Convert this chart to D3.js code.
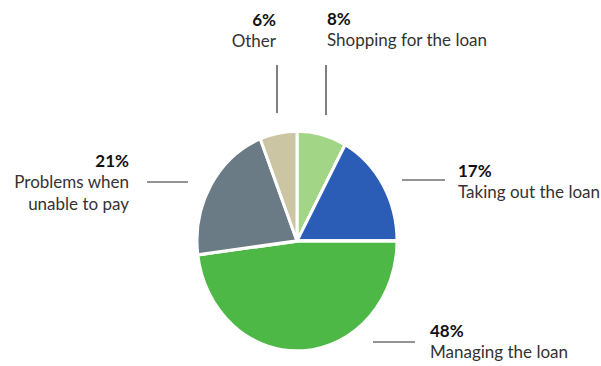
<!DOCTYPE html>
<html>
<head>
<meta charset="utf-8">
<script src="https://cdn.jsdelivr.net/npm/d3@7/dist/d3.min.js"></script>
<style>
  html, body { margin: 0; padding: 0; background: #fff; }
  svg text { font-family: Lato, "Open Sans", sans-serif; }
</style>
</head>
<body>
<svg id="chart" width="601" height="366"></svg>
<script>
// Slice order runs clockwise from 12 o'clock
const categories = ["Shopping for the loan", "Taking out the loan", "Managing the loan", "Problems when unable to pay", "Other"];
const labelLines = [["Shopping for the loan"], ["Taking out the loan"], ["Managing the loan"], ["Problems when", "unable to pay"], ["Other"]];
const values = [8, 17, 48, 21, 6];
const colors = ["#a2d585", "#2b5cb6", "#4db845", "#6b7b85", "#cbc5a3"];

// Label placement: text anchor point, alignment, leader line
const labelLayout = [
  { x: 327, y: 25, anchor: "start", line: [[326, 65], [326, 115]] },
  { x: 458, y: 177, anchor: "start", line: [[402, 180], [445, 180]] },
  { x: 430, y: 337, anchor: "start", line: [[373, 342], [415, 342]] },
  { x: 129, y: 167, anchor: "end", line: [[147, 182], [188, 182]] },
  { x: 276, y: 26, anchor: "end", line: [[277, 65], [277, 113]] }
];

const svg = d3.select("#chart");
const cx = 297, cy = 241, r = 100, sy = 1.1;

const pie = d3.pie().sort(null).value(d => d)(values);
const arc = d3.arc().innerRadius(0).outerRadius(r);

const g = svg.append("g").attr("transform", `translate(${cx},${cy}) scale(1,${sy})`);
g.selectAll("path")
  .data(pie)
  .join("path")
  .attr("d", arc)
  .attr("fill", (d, i) => colors[i])
  .attr("stroke", "#fff")
  .attr("stroke-width", 3)
  .attr("stroke-linejoin", "round");

// Leader lines
svg.append("g").selectAll("line")
  .data(labelLayout)
  .join("line")
  .attr("x1", d => d.line[0][0]).attr("y1", d => d.line[0][1])
  .attr("x2", d => d.line[1][0]).attr("y2", d => d.line[1][1])
  .attr("stroke", "#2a2a2a").attr("stroke-width", 1.2);

// Labels: bold percentage over category name
const labels = svg.append("g").selectAll("text")
  .data(pie)
  .join("text")
  .attr("x", (d, i) => labelLayout[i].x)
  .attr("y", (d, i) => labelLayout[i].y)
  .attr("text-anchor", (d, i) => labelLayout[i].anchor);

labels.append("tspan")
  .attr("font-weight", 700)
  .attr("font-size", 17)
  .attr("fill", "#111")
  .text(d => d.data + "%");

labels.each(function (d, i) {
  const t = d3.select(this);
  labelLines[i].forEach((s, k) => {
    t.append("tspan")
      .attr("x", labelLayout[i].x)
      .attr("dy", k === 0 ? 21 : 22)
      .attr("font-size", 17)
      .attr("fill", "#333")
      .text(s);
  });
});
</script>
</body>
</html>
